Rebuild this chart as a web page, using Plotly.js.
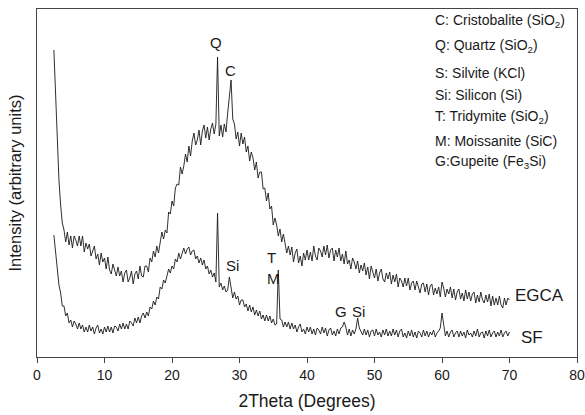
<!DOCTYPE html>
<html>
<head>
<meta charset="utf-8">
<script src="https://cdn.plot.ly/plotly-3.0.1.min.js"></script>
<style>html,body{margin:0;padding:0;background:#fff;}#chart{width:585px;height:415px;}</style>
</head>
<body>
<div id="chart"></div>
<script>
// 2Theta grid: starts at 2.5 deg, step 0.25 deg, ends at 70 deg (271 points)
const thetaStart = 2.5;
const thetaStep = 0.25;

// EGCA intensity (arbitrary units)
const egca = [
  295,245,200,165,140,122,115,103,113,100,109,97,109,105,99,109,99,109,93,102,
  96,101,89,94,99,86,91,80,92,83,87,76,88,75,71,81,76,69,78,69,
  74,63,72,75,63,67,74,61,71,74,66,79,69,68,79,79,73,87,83,94,
  88,99,92,104,113,106,115,112,133,131,144,139,157,161,160,178,171,179,191,183,
  199,189,204,212,200,205,215,200,214,220,207,218,205,216,222,211,221,288,209,220,
  208,221,213,232,248,265,226,221,206,213,199,212,201,208,193,199,184,193,187,175,
  183,167,173,173,156,157,144,152,136,139,120,127,120,109,116,103,111,99,92,99,
  90,98,83,92,96,82,89,79,92,85,95,85,93,84,99,89,85,97,94,88,
  99,90,100,87,95,97,84,95,88,97,84,91,81,94,81,85,76,87,83,76,
  84,72,80,74,82,70,78,66,79,73,67,76,64,72,76,66,63,72,66,73,
  61,70,63,71,58,67,64,58,67,59,67,55,62,64,55,64,57,52,61,62,
  53,61,50,59,61,50,57,51,58,48,63,57,48,56,51,58,47,56,45,53,
  56,46,52,44,55,46,53,44,51,53,42,50,43,53,45,42,50,43,51,39,
  49,40,47,40,49,40,37,47,40,47,45
];

// SF intensity (arbitrary units)
const sf = [
  110,92,75,60,52,39,39,29,32,22,25,18,24,21,16,22,16,20,13,18,
  13,20,14,18,11,17,20,12,16,11,18,13,19,13,18,12,19,18,14,21,
  16,22,16,21,16,24,22,19,27,22,28,22,29,32,27,33,29,38,36,44,
  40,48,46,58,56,65,62,71,76,72,79,76,86,83,92,86,93,97,91,96,
  98,90,94,95,86,89,82,87,80,85,76,79,71,75,68,72,63,132,58,62,
  55,59,53,55,68,58,47,53,46,49,40,45,45,38,41,34,40,33,38,30,
  35,29,34,26,30,24,30,24,29,22,26,20,21,75,26,25,18,23,18,23,
  16,22,16,20,13,18,21,13,16,11,18,13,18,11,16,10,17,15,11,18,
  12,17,9,15,17,10,14,9,16,11,17,18,23,18,10,16,9,15,11,16,
  27,17,14,10,16,10,15,8,14,15,9,16,10,13,8,15,10,16,9,14,
  9,16,10,15,8,14,16,8,12,7,14,9,15,8,13,7,14,12,8,15,
  9,14,8,13,10,15,8,12,14,17,32,18,9,14,8,13,15,8,12,14,
  8,14,9,13,7,15,10,12,8,14,9,16,8,12,13,7,14,9,15,8,
  12,14,8,13,9,15,8,12,14,9,13
];

// X tick labels (major) and minor tick positions
const xTickVals = [0, 10, 20, 30, 40, 50, 60, 70, 80];
const xTickText = ["0", "10", "20", "30", "40", "50", "60", "70", "80"];
const xMinorVals = [5, 15, 25, 35, 45, 55, 65, 75];

// Peak labels: text, 2Theta position, intensity position
const peakText = ["Q", "C", "Si", "T", "M", "G", "Si"];
const peakX    = [26.5, 28.7, 29.0, 34.8, 35.0, 45.0, 47.6];
const peakY    = [303, 275, 80, 88, 67, 34, 34];

// Sample labels
const sampleText = ["EGCA", "SF"];
const sampleX    = [74.5, 73.4];
const sampleY    = [50, 8];

// Phase key lines
const keyText = [
  "C: Cristobalite (SiO<sub>2</sub>)",
  "Q: Quartz (SiO<sub>2</sub>)",
  "S: Silvite (KCl)",
  "Si: Silicon (Si)",
  "T: Tridymite (SiO<sub>2</sub>)",
  "M: Moissanite (SiC)",
  "G:Gupeite (Fe<sub>3</sub>Si)"
];
const keyY = [0.966, 0.894, 0.816, 0.753, 0.690, 0.621, 0.560];

const FONT = "Liberation Sans, Arial, Helvetica, sans-serif";

const traces = [
  {type: "scatter", mode: "lines", name: "EGCA", x0: thetaStart, dx: thetaStep, y: egca,
   line: {color: "#1a1a1a", width: 0.9}, hoverinfo: "skip"},
  {type: "scatter", mode: "lines", name: "SF", x0: thetaStart, dx: thetaStep, y: sf,
   line: {color: "#1a1a1a", width: 0.9}, hoverinfo: "skip"}
];

const annotations = [];
peakText.forEach((t, i) => annotations.push({
  text: t, x: peakX[i], y: peakY[i], xref: "x", yref: "y", showarrow: false,
  xanchor: "center", yanchor: "middle", font: {family: FONT, size: 15, color: "#1a1a1a"}
}));
sampleText.forEach((t, i) => annotations.push({
  text: t, x: sampleX[i], y: sampleY[i], xref: "x", yref: "y", showarrow: false,
  xanchor: "center", yanchor: "middle", font: {family: FONT, size: 17, color: "#1a1a1a"}
}));
keyText.forEach((t, i) => annotations.push({
  text: t, x: 0.733, y: keyY[i], xref: "paper", yref: "paper", showarrow: false,
  xanchor: "left", yanchor: "middle", font: {family: FONT, size: 14, color: "#1a1a1a"}
}));

const layout = {
  width: 585, height: 415,
  margin: {l: 37, r: 8, t: 9, b: 58},
  paper_bgcolor: "#fff", plot_bgcolor: "#fff",
  showlegend: false,
  font: {family: FONT, color: "#1a1a1a"},
  xaxis: {
    range: [0, 80], tickmode: "array", tickvals: xTickVals, ticktext: xTickText,
    showline: true, mirror: true, linecolor: "#444", linewidth: 1.3,
    ticks: "outside", ticklen: 5, tickwidth: 1, tickcolor: "#444",
    showgrid: false, zeroline: false,
    tickfont: {family: FONT, size: 14, color: "#1a1a1a"},
    title: {text: "2Theta (Degrees)", standoff: 12, font: {family: FONT, size: 17.5, color: "#1a1a1a"}},
    automargin: false
  },
  xaxis2: {
    overlaying: "x", anchor: "y", side: "bottom", matches: "x",
    range: [0, 80], tickmode: "array", tickvals: xMinorVals,
    ticks: "outside", ticklen: 3, tickwidth: 1, tickcolor: "#444",
    showticklabels: false, showline: false, showgrid: false, zeroline: false,
    automargin: false
  },
  yaxis: {
    range: [-12, 336], tickmode: "array", tickvals: [], ticktext: [],
    showline: true, mirror: true, linecolor: "#444", linewidth: 1.3,
    ticks: "", showticklabels: false, showgrid: false, zeroline: false,
    title: {text: "Intensity (arbitrary units)", standoff: 10, font: {family: FONT, size: 16.5, color: "#1a1a1a"}},
    automargin: false
  },
  annotations: annotations
};

Plotly.newPlot("chart", traces, layout, {staticPlot: true, displayModeBar: false});
</script>
</body>
</html>
